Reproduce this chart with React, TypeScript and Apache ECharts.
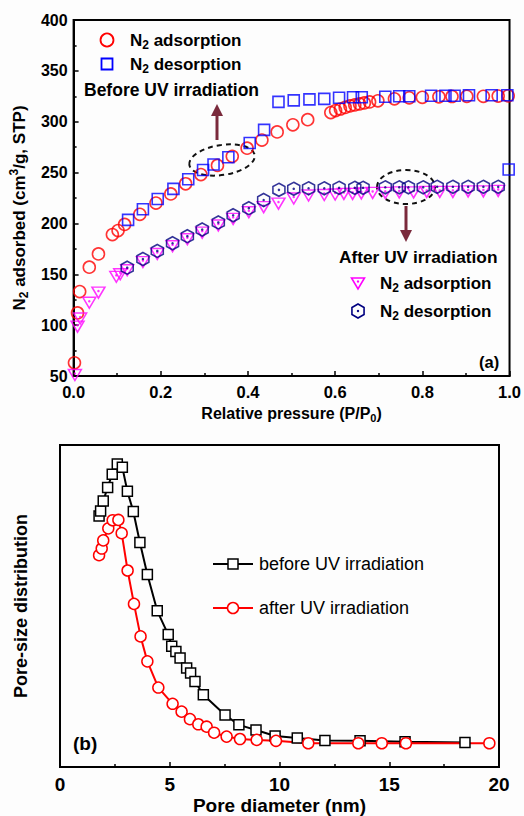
import React, { useEffect, useRef } from "react";
import * as echarts from "echarts";

// (a) N2 isotherms: relative pressure P/P0 and adsorbed volume (cm3/g, STP)
const beforeAdsP = [0.002, 0.009, 0.014, 0.036, 0.057, 0.089, 0.102, 0.117, 0.152, 0.189, 0.223, 0.257, 0.292, 0.33, 0.364, 0.398, 0.432, 0.467, 0.503, 0.537, 0.59, 0.601, 0.612, 0.623, 0.634, 0.645, 0.656, 0.667, 0.679, 0.698, 0.736, 0.77, 0.8, 0.838, 0.868, 0.902, 0.94, 0.974, 0.997];
const beforeAdsV = [63, 112, 133, 157, 170, 189, 193, 199, 209, 220, 229, 239, 248, 257, 266, 274, 282, 290, 297, 302, 309, 311, 312.5, 314, 315.5, 316.5, 317.5, 318.5, 319.5, 320.5, 322.5, 323.5, 324, 324.5, 324.8, 325, 325, 325.2, 325.5];

const beforeDesP = [0.125, 0.159, 0.193, 0.229, 0.263, 0.297, 0.321, 0.355, 0.404, 0.437, 0.47, 0.505, 0.541, 0.575, 0.609, 0.641, 0.661, 0.715, 0.747, 0.77, 0.82, 0.853, 0.874, 0.907, 0.959, 0.995, 0.998];
const beforeDesV = [203.5, 214, 224, 234, 243.5, 252.5, 258, 265, 279, 292, 319.5, 321, 322, 322.5, 323.5, 324, 324, 324.5, 325, 325, 325.5, 325.5, 325.5, 326, 326, 326, 253];

const afterAdsP = [0.003, 0.009, 0.015, 0.036, 0.057, 0.098, 0.107, 0.123, 0.159, 0.192, 0.227, 0.261, 0.295, 0.332, 0.366, 0.402, 0.436, 0.47, 0.505, 0.539, 0.575, 0.6, 0.62, 0.64, 0.66, 0.686, 0.715, 0.747, 0.78, 0.81, 0.84, 0.87, 0.905, 0.94, 0.974];
const afterAdsV = [51, 98.5, 106.5, 122, 132, 147.5, 150, 154, 162, 170, 177.5, 184.5, 191, 198, 204.5, 211, 216, 219.5, 224.5, 227.5, 228, 228.5, 229, 229, 229.5, 230, 230, 230.5, 230.5, 231, 231, 231, 231.5, 231.5, 232];

const afterDesP = [0.123, 0.159, 0.192, 0.227, 0.261, 0.295, 0.332, 0.366, 0.402, 0.436, 0.471, 0.505, 0.539, 0.575, 0.609, 0.645, 0.664, 0.715, 0.747, 0.768, 0.802, 0.834, 0.87, 0.905, 0.94, 0.974];
const afterDesV = [156.5, 165, 173, 180.5, 187.5, 194, 201, 208, 215, 223, 233, 234, 234.5, 234.5, 235, 235, 235, 235.5, 235.5, 235.5, 235.5, 236, 236, 236, 236, 236];

// (b) pore-size distribution: pore diameter (nm) and relative intensity (a.u.)
const beforeD = [1.78, 1.85, 1.97, 2.17, 2.38, 2.61, 2.84, 3.07, 3.34, 3.64, 3.98, 4.43, 4.93, 5.09, 5.28, 5.47, 5.77, 5.95, 6.15, 6.53, 7.52, 8.15, 8.93, 9.8, 10.81, 12.07, 13.67, 15.72, 18.45];
const beforePSD = [83.4, 85.1, 88.4, 92.9, 97.3, 100.7, 99.6, 91.6, 84.9, 74.6, 64, 51.9, 44, 40.1, 38.4, 36.2, 32.9, 31.2, 28.4, 24, 17.3, 14, 12.3, 10.3, 9.6, 8.8, 8.7, 8.4, 8.1];

const afterD = [1.78, 1.9, 1.97, 2.2, 2.4, 2.66, 2.81, 3.08, 3.37, 3.67, 3.98, 4.48, 5.13, 5.54, 5.92, 6.3, 6.68, 7.02, 7.59, 8.2, 8.96, 9.84, 11.31, 13.59, 14.66, 15.76, 19.56];
const afterPSD = [70.4, 72.6, 75.3, 79.3, 82, 82.1, 77.7, 65.3, 54.2, 43.4, 35.1, 26.4, 21, 18.4, 15.9, 14.2, 13.4, 11.4, 10.1, 9.3, 9, 8.7, 7.9, 7.9, 7.9, 7.9, 7.9];

const pressureTicks = [0, 0.2, 0.4, 0.6, 0.8, 1.0];
const volumeTicks = [50, 100, 150, 200, 250, 300, 350, 400];
const diameterTicks = [0, 5, 10, 15, 20];

const FONT = "'Liberation Sans', Arial, Helvetica, sans-serif";
const RED = "#ff0000";
const BLUE = "#0000ff";
const MAGENTA = "#ff00ff";
const NAVY = "#000080";
const ARROW = "#7a2a3c";

const zip = (xs: number[], ys: number[]) => xs.map((x, i) => [x, ys[i]]);

const triPath = "path://M-1,-0.85 L1,-0.85 L0,0.9 Z";
const hexPath = "path://M0,-1 L0.866,-0.5 L0.866,0.5 L0,1 L-0.866,0.5 L-0.866,-0.5 Z";

// rich-text styles for sub/superscripts
const richBold = (size: number) => ({
  n: { fontFamily: FONT, fontWeight: "bold", fontSize: size, lineHeight: size + 4, color: "#000" },
  s: { fontFamily: FONT, fontWeight: "bold", fontSize: size - 5, lineHeight: size - 4, padding: [10, 0, 0, 0], color: "#000" },
  p: { fontFamily: FONT, fontWeight: "bold", fontSize: size - 5, lineHeight: size - 4, padding: [0, 0, 10, 0], color: "#000" },
  gap: { fontSize: size, width: 20, lineHeight: size + 4 },
});

const hexPoints = (cx: number, cy: number, r: number) =>
  [0, 1, 2, 3, 4, 5].map((k) => {
    const a = (-90 + k * 60) * (Math.PI / 180);
    return [cx + r * Math.cos(a), cy + r * Math.sin(a)];
  });

const richText = (x: number, y: number, text: string, size = 17) => ({
  type: "text",
  x,
  y,
  style: { text, rich: richBold(size), align: "left", verticalAlign: "middle" },
});

const plainText = (x: number, y: number, text: string, size: number, bold: boolean) => ({
  type: "text",
  x,
  y,
  style: {
    text,
    fill: "#000",
    font: `${bold ? "bold " : ""}${size}px ${FONT}`,
    align: "left",
    verticalAlign: "middle",
  },
});

export default function App() {
  const ref = useRef<HTMLDivElement>(null);

  useEffect(() => {
    document.body.style.margin = "0";
    if (!ref.current) return;
    const chart = echarts.init(ref.current, undefined, { renderer: "svg" });

    const axisLabelStyle = (size: number) => ({
      fontFamily: FONT,
      fontWeight: "bold" as const,
      fontSize: size,
      color: "#000",
    });

    const option: any = {
      animation: false,
      backgroundColor: "#fdfdfd",
      grid: [
        { left: 70, top: 20, width: 440, height: 356, show: true, borderColor: "#000", borderWidth: 2, backgroundColor: "transparent" },
        { left: 60, top: 445, width: 439, height: 322, show: true, borderColor: "#000", borderWidth: 2, backgroundColor: "transparent" },
      ],
      xAxis: [
        {
          gridIndex: 0,
          type: "value",
          min: pressureTicks[0],
          max: pressureTicks[pressureTicks.length - 1],
          interval: 0.2,
          name: "{n|Relative pressure (P/P}{s|0}{n|)}",
          nameLocation: "middle",
          nameGap: 27,
          nameTextStyle: { rich: richBold(16) },
          axisLine: { lineStyle: { color: "#000", width: 2 } },
          axisTick: { inside: true, length: 5, lineStyle: { color: "#000", width: 1.5 } },
          minorTick: { show: true, splitNumber: 2, length: 3, lineStyle: { color: "#000", width: 1.5 } },
          axisLabel: { ...axisLabelStyle(16.5), margin: 7, formatter: (v: number) => v.toFixed(1) },
          splitLine: { show: false },
        },
        {
          gridIndex: 1,
          type: "value",
          min: diameterTicks[0],
          max: diameterTicks[diameterTicks.length - 1],
          interval: 5,
          name: "Pore diameter (nm)",
          nameLocation: "middle",
          nameGap: 29,
          nameTextStyle: axisLabelStyle(19),
          axisLine: { lineStyle: { color: "#000", width: 2 } },
          axisTick: { inside: true, length: 5, lineStyle: { color: "#000", width: 1.5 } },
          minorTick: { show: true, splitNumber: 2, length: 3, lineStyle: { color: "#000", width: 1.5 } },
          axisLabel: { ...axisLabelStyle(19), margin: 8 },
          splitLine: { show: false },
        },
      ],
      yAxis: [
        {
          gridIndex: 0,
          type: "value",
          min: volumeTicks[0],
          max: volumeTicks[volumeTicks.length - 1],
          interval: 50,
          // trailing empty box nudges the centred title towards the lower end of the axis
          name: "{n|N}{s|2}{n| adsorbed (cm}{p|3}{n|/g, STP)}{gap|}",
          nameLocation: "middle",
          nameGap: 43,
          nameTextStyle: { rich: richBold(17) },
          axisLine: { lineStyle: { color: "#000", width: 2 } },
          axisTick: { inside: true, length: 5, lineStyle: { color: "#000", width: 1.5 } },
          minorTick: { show: true, splitNumber: 2, length: 3, lineStyle: { color: "#000", width: 1.5 } },
          axisLabel: { ...axisLabelStyle(16), margin: 6 },
          splitLine: { show: false },
        },
        {
          gridIndex: 1,
          type: "value",
          min: 0,
          max: 107,
          name: "Pore-size distribution",
          nameLocation: "middle",
          nameGap: 30,
          nameTextStyle: axisLabelStyle(18),
          axisLine: { lineStyle: { color: "#000", width: 2 } },
          axisTick: { show: false },
          axisLabel: { show: false },
          splitLine: { show: false },
        },
      ],
      series: [
        {
          name: "before adsorption",
          type: "scatter",
          xAxisIndex: 0,
          yAxisIndex: 0,
          data: zip(beforeAdsP, beforeAdsV),
          symbol: "circle",
          symbolSize: 12,
          itemStyle: { color: "rgba(0,0,0,0)", borderColor: RED, borderWidth: 1.6 },
        },
        {
          name: "before desorption",
          type: "scatter",
          xAxisIndex: 0,
          yAxisIndex: 0,
          data: zip(beforeDesP, beforeDesV),
          symbol: "rect",
          symbolSize: 11,
          itemStyle: { color: "rgba(0,0,0,0)", borderColor: BLUE, borderWidth: 1.6 },
        },
        {
          name: "after adsorption",
          type: "scatter",
          xAxisIndex: 0,
          yAxisIndex: 0,
          data: zip(afterAdsP, afterAdsV),
          symbol: triPath,
          symbolSize: [13, 11],
          itemStyle: { color: "rgba(0,0,0,0)", borderColor: MAGENTA, borderWidth: 1.5 },
        },
        {
          name: "after adsorption dot",
          type: "scatter",
          xAxisIndex: 0,
          yAxisIndex: 0,
          data: zip(afterAdsP, afterAdsV),
          symbol: "circle",
          symbolSize: 2.5,
          symbolOffset: [0, -1.5],
          itemStyle: { color: MAGENTA },
        },
        {
          name: "after desorption",
          type: "scatter",
          xAxisIndex: 0,
          yAxisIndex: 0,
          data: zip(afterDesP, afterDesV),
          symbol: hexPath,
          symbolSize: [12, 13],
          itemStyle: { color: "rgba(0,0,0,0)", borderColor: NAVY, borderWidth: 1.6 },
        },
        {
          name: "after desorption dot",
          type: "scatter",
          xAxisIndex: 0,
          yAxisIndex: 0,
          data: zip(afterDesP, afterDesV),
          symbol: "circle",
          symbolSize: 2.5,
          itemStyle: { color: NAVY },
        },
        {
          name: "before UV irradiation",
          type: "line",
          xAxisIndex: 1,
          yAxisIndex: 1,
          data: zip(beforeD, beforePSD),
          symbol: "rect",
          symbolSize: 10,
          showAllSymbol: true,
          lineStyle: { color: "#000", width: 2 },
          itemStyle: { color: "#fff", borderColor: "#000", borderWidth: 1.5 },
        },
        {
          name: "after UV irradiation",
          type: "line",
          xAxisIndex: 1,
          yAxisIndex: 1,
          data: zip(afterD, afterPSD),
          symbol: "circle",
          symbolSize: 11,
          showAllSymbol: true,
          lineStyle: { color: RED, width: 2 },
          itemStyle: { color: "#fff", borderColor: RED, borderWidth: 1.5 },
        },
      ],
      graphic: [
        // legend, before UV irradiation
        { type: "circle", shape: { cx: 107, cy: 40, r: 6.5 }, style: { fill: "none", stroke: RED, lineWidth: 1.8 } },
        richText(130, 40, "{n|N}{s|2}{n| adsorption}"),
        { type: "rect", shape: { x: 101.5, y: 58.5, width: 11, height: 11 }, style: { fill: "none", stroke: BLUE, lineWidth: 1.8 } },
        richText(130, 64, "{n|N}{s|2}{n| desorption}"),
        plainText(84, 90, "Before UV irradiation", 17.5, true),
        // dashed marker + arrow on the before isotherm
        { type: "ellipse", x: 222, y: 160, rotation: 0.15, shape: { cx: 0, cy: 0, rx: 33, ry: 15 }, style: { fill: "none", stroke: "#111", lineWidth: 2, lineDash: [5, 4] } },
        { type: "line", shape: { x1: 217, y1: 140, x2: 217, y2: 114 }, style: { stroke: ARROW, lineWidth: 3 } },
        { type: "polygon", shape: { points: [[211, 116], [223, 116], [217, 104]] }, style: { fill: ARROW } },
        // dashed marker + arrow on the after isotherm
        { type: "ellipse", x: 406, y: 187, shape: { cx: 0, cy: 0, rx: 29, ry: 17 }, style: { fill: "none", stroke: "#111", lineWidth: 2, lineDash: [5, 4] } },
        { type: "line", shape: { x1: 406, y1: 206, x2: 406, y2: 232 }, style: { stroke: ARROW, lineWidth: 3 } },
        { type: "polygon", shape: { points: [[400, 230], [412, 230], [406, 242]] }, style: { fill: ARROW } },
        // legend, after UV irradiation
        plainText(339, 257, "After UV irradiation", 17.3, true),
        { type: "polygon", shape: { points: [[351.5, 278], [364.5, 278], [358, 289]] }, style: { fill: "none", stroke: MAGENTA, lineWidth: 1.6 } },
        { type: "circle", shape: { cx: 358, cy: 281.5, r: 1.2 }, style: { fill: MAGENTA } },
        richText(380, 283, "{n|N}{s|2}{n| adsorption}"),
        { type: "polygon", shape: { points: hexPoints(358, 311, 7) }, style: { fill: "none", stroke: NAVY, lineWidth: 1.6 } },
        { type: "circle", shape: { cx: 358, cy: 311, r: 1.2 }, style: { fill: NAVY } },
        richText(380, 311, "{n|N}{s|2}{n| desorption}"),
        plainText(479, 362, "(a)", 16.5, true),
        // legend, pore-size distribution
        { type: "line", shape: { x1: 213, y1: 564, x2: 253, y2: 564 }, style: { stroke: "#000", lineWidth: 2 } },
        { type: "rect", shape: { x: 228, y: 559, width: 10, height: 10 }, style: { fill: "#fff", stroke: "#000", lineWidth: 1.5 } },
        plainText(259, 564, "before UV irradiation", 18, false),
        { type: "line", shape: { x1: 213, y1: 608, x2: 253, y2: 608 }, style: { stroke: RED, lineWidth: 2 } },
        { type: "circle", shape: { cx: 233, cy: 608, r: 5.5 }, style: { fill: "#fff", stroke: RED, lineWidth: 1.5 } },
        plainText(259, 608, "after UV irradiation", 18, false),
        plainText(73, 743, "(b)", 19, true),
      ],
    };

    chart.setOption(option);
    return () => chart.dispose();
  }, []);

  return <div ref={ref} style={{ width: 524, height: 816 }} />;
}
